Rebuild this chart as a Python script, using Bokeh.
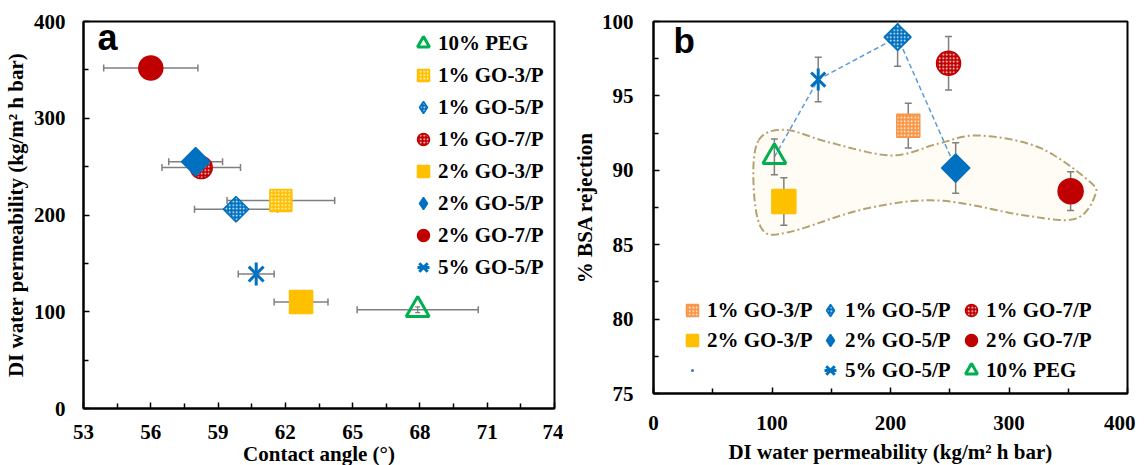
import math
import numpy as np
from bokeh.plotting import figure
from bokeh.layouts import row
from bokeh.models import Range1d, FixedTicker, Legend, LegendItem, Label
from bokeh.embed import file_html
from bokeh.resources import INLINE

# ---------------- data ----------------
samples = ["10% PEG", "1% GO-3/P", "1% GO-5/P", "1% GO-7/P",
           "2% GO-3/P", "2% GO-5/P", "2% GO-7/P", "5% GO-5/P"]
contact_angle = [67.9, 61.8, 59.8, 58.25, 62.7, 58.0, 56.0, 60.7]
contact_angle_err = [2.7, 2.4, 1.85, 1.75, 1.2, 1.2, 2.1, 0.8]
permeability = [102, 215, 206, 249, 110, 255, 352, 139]
permeability_err = [3, 0, 0, 0, 0, 0, 0, 0]
bsa_rejection = [90.9, 93.0, 98.95, 97.2, 87.9, 90.15, 88.6, 96.1]
bsa_rejection_err = [1.2, 1.5, 1.95, 1.8, 1.6, 1.7, 1.3, 1.5]
trend_samples = ["10% PEG", "5% GO-5/P", "1% GO-5/P", "2% GO-5/P"]

# outline of the highlighted region in panel b (permeability, rejection)
region_perm = [88.6, 111.1, 147.7, 200.8, 240.5, 274.3, 324.9, 367.1,
               372.6, 355.9, 313.7, 240.5, 178.6, 113.9, 91.4, 84.4]
region_rej = [92.0, 92.72, 91.89, 91.0, 91.8, 92.34, 91.55, 89.31,
              88.31, 86.74, 86.96, 87.97, 87.41, 85.84, 86.07, 89.09]

a_x_ticks = [53, 56, 59, 62, 65, 68, 71, 74]
a_x_minor = [54.5, 57.5, 60.5, 63.5, 66.5, 69.5, 72.5]
a_y_ticks = [0, 100, 200, 300, 400]
a_y_minor = [50, 150, 250, 350]
b_x_ticks = [0, 100, 200, 300, 400]
b_x_minor = [50, 150, 250, 350]
b_y_ticks = [75, 80, 85, 90, 95, 100]
b_y_minor = [77.5, 82.5, 87.5, 92.5, 97.5]

legend_b_cols = [["1% GO-3/P", "2% GO-3/P", None],
                 ["1% GO-5/P", "2% GO-5/P", "5% GO-5/P"],
                 ["1% GO-7/P", "2% GO-7/P", "10% PEG"]]

# ---------------- styles ----------------
RED, BLUE, YEL, GRN, ORG = "#C00000", "#0070C0", "#FFC000", "#00B050", "#F79646"
ERR = "#7F7F7F"
FONT = "Liberation Serif"

STYLE_A = {
    "10% PEG": dict(kind="triangle", color=GRN, size=23),
    "1% GO-3/P": dict(kind="square", color=YEL, size=22, hatch=True),
    "1% GO-5/P": dict(kind="diamond", color=BLUE, size=18, hatch=True),
    "1% GO-7/P": dict(kind="circle", color=RED, size=22, hatch=True),
    "2% GO-3/P": dict(kind="square", color=YEL, size=23),
    "2% GO-5/P": dict(kind="diamond", color=BLUE, size=20),
    "2% GO-7/P": dict(kind="circle", color=RED, size=24),
    "5% GO-5/P": dict(kind="asterisk", color=BLUE, size=21),
}
STYLE_B = dict(STYLE_A)
STYLE_B.update({
    "1% GO-3/P": dict(kind="square", color=ORG, size=23, hatch=True),
    "1% GO-5/P": dict(kind="diamond", color=BLUE, size=19, hatch=True),
    "1% GO-7/P": dict(kind="circle", color=RED, size=24, hatch=True),
    "2% GO-3/P": dict(kind="square", color=YEL, size=24),
    "2% GO-5/P": dict(kind="diamond", color=BLUE, size=20),
    "2% GO-7/P": dict(kind="circle", color=RED, size=25),
    "10% PEG": dict(kind="triangle", color=GRN, size=23),
    "5% GO-5/P": dict(kind="asterisk", color=BLUE, size=20),
})

HATCH = dict(hatch_pattern="dot", hatch_color="white", hatch_scale=3.5, hatch_weight=1.5)


def add_marker(p, x, y, st):
    """Draw a sample's marker; return the renderers to show in the legend."""
    c = st["color"]
    s = st["size"]
    k = st["kind"]
    if k == "asterisk":
        r1 = p.scatter([x], [y], marker="x", size=s, line_color=c, line_width=3)
        r2 = p.scatter([x], [y], marker="dash", angle=math.pi / 2, size=s + 2,
                       line_color=c, line_width=3)
        return [r1, r2]
    if k == "triangle":
        return [p.scatter([x], [y], marker="triangle", size=s, fill_color="white",
                          fill_alpha=0, line_color=c, line_width=3)]
    kw = dict(fill_color=c, line_color=c, line_width=1.5)
    if st.get("hatch"):
        kw.update(HATCH)
    if k == "diamond":
        p.scatter([x], [y], marker="square", angle=math.pi / 4, size=s, **kw)
        # zero-size twin for the legend (legend glyphs ignore rotation)
        return [p.scatter([x], [y], marker="diamond", size=0, **kw)]
    marker = "square" if k == "square" else "circle"
    return [p.scatter([x], [y], marker=marker, size=s, **kw)]


def style_axis(ax, label, ticks, minor, standoff, label_standoff):
    ax.axis_label = label
    ax.ticker = FixedTicker(ticks=ticks, minor_ticks=minor)
    for pre in ("axis_label_text", "major_label_text"):
        setattr(ax, pre + "_font", FONT)
        setattr(ax, pre + "_font_style", "bold")
        setattr(ax, pre + "_font_size", "21px")
        setattr(ax, pre + "_color", "black")
    ax.axis_line_width = 2
    ax.axis_line_color = "black"
    ax.major_tick_in = 6
    ax.major_tick_out = 0
    ax.minor_tick_in = 5
    ax.minor_tick_out = 0
    ax.major_tick_line_width = 1.5
    ax.minor_tick_line_width = 1.5
    ax.major_tick_line_color = "black"
    ax.minor_tick_line_color = "black"
    ax.major_label_standoff = standoff
    ax.axis_label_standoff = label_standoff


def base_fig(**kw):
    p = figure(output_backend="svg", toolbar_location=None, **kw)
    p.xgrid.visible = False
    p.ygrid.visible = False
    p.outline_line_color = "black"
    p.outline_line_width = 2
    p.outline_line_alpha = 1
    p.background_fill_color = "white"
    p.border_fill_color = "white"
    return p


leg_kw = dict(padding=0, margin=0, spacing=0, label_standoff=0,
              border_line_color=None, background_fill_alpha=0,
              label_text_font=FONT, label_text_font_style="bold",
              label_text_font_size="21px", label_text_color="black")

# ---------------- panel a ----------------
pa = base_fig(frame_width=471, frame_height=387, min_border_left=80, min_border_right=9,
              min_border_top=20, min_border_bottom=40,
              x_range=Range1d(53, 74), y_range=Range1d(0, 400))
style_axis(pa.xaxis[0], "Contact angle (°)", a_x_ticks, a_x_minor, 16, 0)
style_axis(pa.yaxis[0], "DI water permeability (kg/m² h bar)", a_y_ticks, a_y_minor, 18, 3)

ca = np.array(contact_angle)
cae = np.array(contact_angle_err)
pm = np.array(permeability, dtype=float)
pme = np.array(permeability_err, dtype=float)

pa.segment(ca - cae, pm, ca + cae, pm, line_color=ERR, line_width=1.5)
pa.scatter(np.concatenate([ca - cae, ca + cae]), np.concatenate([pm, pm]), marker="dash",
           angle=math.pi / 2, size=7, line_color=ERR, line_width=1.5)
has_v = pme > 0
pa.segment(ca[has_v], pm[has_v] - pme[has_v], ca[has_v], pm[has_v] + pme[has_v],
           line_color=ERR, line_width=1.2)
pa.scatter(np.concatenate([ca[has_v], ca[has_v]]),
           np.concatenate([pm[has_v] - pme[has_v], pm[has_v] + pme[has_v]]),
           marker="dash", size=5, line_color=ERR, line_width=1.2)

items_a = []
for i, name in enumerate(samples):
    rs = add_marker(pa, contact_angle[i], permeability[i], STYLE_A[name])
    items_a.append(LegendItem(label=name, renderers=rs))

leg_a = Legend(items=items_a, location=(325, 125), glyph_width=30, glyph_height=32, **leg_kw)
pa.add_layout(leg_a)
pa.add_layout(Label(x=53.62, y=383, text="a", text_font="Liberation Sans",
                    text_baseline="alphabetic", text_font_style="bold",
                    text_font_size="36px", text_color="black"))

# ---------------- panel b ----------------
pb = base_fig(frame_width=474, frame_height=372, min_border_left=90, min_border_right=8,
              min_border_top=21, min_border_bottom=40,
              x_range=Range1d(0, 400), y_range=Range1d(75, 100))
style_axis(pb.xaxis[0], "DI water permeability (kg/m² h bar)", b_x_ticks, b_x_minor, 22, 7)
style_axis(pb.yaxis[0], "% BSA rejection", b_y_ticks, b_y_minor, 20, 2)


def closed_spline(xs, ys, n=20):
    pts = np.column_stack([xs, ys]).astype(float)
    N = len(pts)
    t = np.linspace(0, 1, n, endpoint=False)[:, None]
    out = []
    for i in range(N):
        p0, p1, p2, p3 = pts[(i - 1) % N], pts[i], pts[(i + 1) % N], pts[(i + 2) % N]
        out.append(0.5 * (2 * p1 + (-p0 + p2) * t + (2 * p0 - 5 * p1 + 4 * p2 - p3) * t ** 2
                          + (-p0 + 3 * p1 - 3 * p2 + p3) * t ** 3))
    out = np.vstack(out + [pts[:1]])
    return out[:, 0], out[:, 1]


bx, by = closed_spline(region_perm, region_rej)
pb.patch(bx, by, fill_color="#FFFCF5", line_color="#B5A272", line_width=2,
         line_dash="8 3 2 3")

rej = np.array(bsa_rejection)
reje = np.array(bsa_rejection_err)
tidx = [samples.index(s) for s in trend_samples]
pb.line(pm[tidx], rej[tidx], line_color="#5B9BD5", line_width=1.5, line_dash="5 3")

pb.segment(pm, rej - reje, pm, rej + reje, line_color=ERR, line_width=1.5)
pb.scatter(np.concatenate([pm, pm]), np.concatenate([rej - reje, rej + reje]), marker="dash",
           size=7, line_color=ERR, line_width=1.5)

rend_b = {}
for i, name in enumerate(samples):
    rend_b[name] = add_marker(pb, permeability[i], bsa_rejection[i], STYLE_B[name])
# trend series: shown in the legend only as a tiny dot
rend_b[None] = [pb.scatter(pm[tidx], rej[tidx], marker="dot", size=0, line_color="#4472C4",
                           fill_color="#4472C4")]

col_x = [24, 162, 303]
for ci, col in enumerate(legend_b_cols):
    its = [LegendItem(label=(nm if nm else " "), renderers=rend_b[nm]) for nm in col]
    lg = Legend(items=its, location=(col_x[ci], 8), glyph_width=30, glyph_height=30, **leg_kw)
    pb.add_layout(lg)

pb.add_layout(Label(x=16.9, y=98.7, text="b", text_font="Liberation Sans",
                    text_baseline="alphabetic", text_font_style="bold",
                    text_font_size="35px", text_color="black"))

layout = row(pa, pb)
open("out.html", "w").write(file_html(layout, INLINE))
